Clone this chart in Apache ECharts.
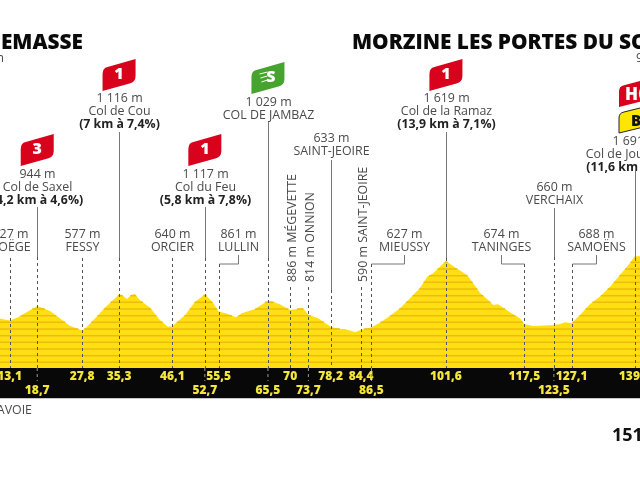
<!DOCTYPE html>
<html>
<head>
<meta charset="utf-8">
<style>html,body{margin:0;padding:0;background:#fff;overflow:hidden}#c{width:640px;height:480px}</style>
<script src="https://cdn.jsdelivr.net/npm/echarts@6/dist/echarts.min.js"></script>
</head>
<body>
<div id="c"></div>
<script>
// Road profile: distance in km, altitude in m
const profileKm = [11,13.1,14.6,16.2,18.7,21.3,23.3,25.3,27.8,28.6,31.4,32.5,35.3,35.9,36.9,37.7,38.5,39.5,41.6,43.6,45.2,46.1,48.7,50.7,52.7,53,54.2,55.5,57.4,59,60.2,62.9,65.5,66,67.9,70,71.4,72.6,73.7,75.7,78.2,80.1,81.1,83.2,84.4,86.5,88.2,90.3,92.3,94.3,96.3,97.8,99,101.6,103.4,105.9,107.5,108.5,110,111.2,112.2,114.6,116.6,117.5,119.3,120.7,123.5,124.7,125.8,127.1,128.8,130.8,132.8,134.9,136.9,138.9,139.9,141];
const profileAlt = [760,727,770,835,944,870,760,650,577,620,835,925,1116,1110,1050,1110,1125,1035,920,735,635,640,810,1010,1117,1105,1010,861,825,775,835,900,1029,1020,970,886,900,910,814,760,633,600,600,550,590,627,695,800,910,1060,1210,1385,1435,1619,1525,1410,1250,1145,1045,960,970,850,760,674,645,650,660,675,700,688,810,970,1085,1235,1410,1585,1691,1690];
const contourLevels = [100,200,300,400,500,600,700,800,900,1000,1100,1200,1300,1400,1500,1600];

// Distance markers printed in the black band
const stopKm = [13.1,18.7,27.8,35.3,46.1,52.7,55.5,65.5,70,73.7,78.2,84.4,86.5,101.6,117.5,123.5,127.1,139.9];
const stopText = ['13,1','18,7','27,8','35,3','46,1','52,7','55,5','65,5','70','73,7','78,2','84,4','86,5','101,6','117,5','123,5','127,1','139,9'];
const stopRow = [0,1,0,0,0,1,0,1,0,1,0,0,1,0,0,1,0,0];

// Horizontal place names above the profile
const placeKm = [13.1,18.7,27.8,35.3,46.1,52.7,55.5,65.5,78.2,86.5,101.6,117.5,123.5,127.1,139.9];
const placeLines = [
  ['727 m','BOËGE'],
  ['944 m','Col de Saxel','(4,2 km à 4,6%)'],
  ['577 m','FESSY'],
  ['1 116 m','Col de Cou','(7 km à 7,4%)'],
  ['640 m','ORCIER'],
  ['1 117 m','Col du Feu','(5,8 km à 7,8%)'],
  ['861 m','LULLIN'],
  ['1 029 m','COL DE JAMBAZ'],
  ['633 m','SAINT-JEOIRE'],
  ['627 m','MIEUSSY'],
  ['1 619 m','Col de la Ramaz','(13,9 km à 7,1%)'],
  ['674 m','TANINGES'],
  ['660 m','VERCHAIX'],
  ['688 m','SAMOËNS'],
  ['1 691 m','Col de Joux Plane','(11,6 km à 8,5%)']
];

// Upright place names
const sideKm = [70,73.7,84.4];
const sideText = ['886 m MÉGEVETTE','814 m ONNION','590 m SAINT-JEOIRE'];

// Climb flags
const flagKm = [18.7,35.3,52.7,65.5,101.6];
const flagText = ['3','1','1','S','1'];

const FONT = '"Open Sans"';
const INK = '#4a4a4a';
const BASE_Y = 368;
const pxPerKm = 4.93;
const xMin = 11.15, xMax = xMin + 640 / pxPerKm;

// Per-place leader layout, same order as placeKm
const placeLayout = [
  {top:234,dash:258},
  {top:174,solid:207,dash:257},
  {top:234,dash:258},
  {top:98,solid:132,dash:258},
  {top:234,dash:258},
  {top:174,solid:207,dash:258},
  {top:234,dash:264,elbow:19},
  {top:102,solid:122,dash:258},
  {top:138,solid:160,dash:290},
  {top:234,dash:264,elbow:33},
  {top:98,solid:132,dash:258},
  {top:234,dash:264,elbow:-23},
  {top:187,solid:208,dash:257},
  {top:234,dash:264,elbow:24},
  {top:141,solid:167,dash:258}
];
const flagTop = [134,59,134,62,59];
const flagColor = ['#d8021c','#d8021c','#d8021c','#46a32e','#d8021c'];

const RIBBON = 'M0 32L0 15Q0 9 5 8L33 0L33 17Q33 23 27 24.5Z';

function ribbon(x, y, h, fill, stroke) {
  return {type:'path', shape:{pathData:RIBBON, x:x, y:y, width:33, height:h, layout:'cover'},
    style:{fill:fill, stroke:stroke || null, lineWidth:stroke ? 1 : 0}};
}
function label(x, y, text, font, fill, align) {
  return {type:'text', style:{x:x, y:y, text:text, font:font, fill:fill || INK, align:align || 'center', verticalAlign:'middle'}};
}
function seg(x1, y1, x2, y2, color, dash) {
  return {type:'line', shape:{x1:x1, y1:y1, x2:x2, y2:y2},
    style:{stroke:color, lineWidth:1, lineDash:dash || null}};
}

// Walks the profile and draws a contour wherever the ground is above the level
function renderContour(params, api) {
  const level = api.value(1), kids = [];
  let start = null;
  for (let i = 0; i < profileKm.length; i++) {
    const a = profileAlt[i];
    if (a > level && start === null) {
      if (i === 0) start = profileKm[0];
      else start = profileKm[i-1] + (level - profileAlt[i-1]) / (a - profileAlt[i-1]) * (profileKm[i] - profileKm[i-1]);
    } else if (a <= level && start !== null) {
      const end = profileKm[i-1] + (level - profileAlt[i-1]) / (a - profileAlt[i-1]) * (profileKm[i] - profileKm[i-1]);
      kids.push([start, end]);
      start = null;
    }
  }
  if (start !== null) kids.push([start, profileKm[profileKm.length-1]]);
  return {type:'group', children:kids.map(function (k) {
    const p = api.coord([k[0], level]), q = api.coord([k[1], level]);
    return {type:'line', shape:{x1:p[0], y1:p[1], x2:q[0], y2:p[1]}, style:{stroke:'#eebd0c', lineWidth:1.5}};
  })};
}

function renderStop(params, api) {
  const i = params.dataIndex, x = api.coord([stopKm[i], 0])[0];
  const y = stopRow[i] ? 391 : 377;
  const kids = [label(x, y, stopText[i], '800 12px ' + FONT, '#f4e53a')];
  if (stopRow[i]) kids.push(seg(x, BASE_Y, x, 381, '#9a9a9a', [3, 3]));
  return {type:'group', children:kids};
}

function renderPlace(params, api) {
  const i = params.dataIndex, L = placeLayout[i], x = Math.round(api.coord([placeKm[i], 0])[0]) + 0.5;
  const tx = x + (L.elbow || 0), lines = placeLines[i], kids = [];
  lines.forEach(function (t, n) {
    const bold = t.charAt(0) === '(';
    kids.push(label(tx, L.top + n * 13, t, (bold ? '700 12.3px ' : '400 12.4px ') + FONT, bold ? '#222' : INK));
  });
  if (L.solid) kids.push(seg(x, L.solid, x, L.dash, '#777'));
  if (L.elbow) {
    kids.push(seg(x, L.dash, tx, L.dash, '#777'));
    kids.push(seg(tx, L.dash, tx, L.dash - 9, '#777'));
  }
  kids.push(seg(x, L.dash, x, BASE_Y, '#555', [3, 3]));
  return {type:'group', children:kids};
}

function renderSide(params, api) {
  const i = params.dataIndex, x = Math.round(api.coord([sideKm[i], 0])[0]) + 0.5;
  return {type:'group', children:[
    {type:'text', x:x + 2, y:282, rotation:Math.PI / 2,
      style:{x:0, y:0, text:sideText[i], font:'400 12.4px ' + FONT, fill:INK, align:'left', verticalAlign:'middle'}},
    seg(x, 287, x, BASE_Y, '#555', [3, 3])
  ]};
}

function renderFlag(params, api) {
  const i = params.dataIndex, cx = api.coord([flagKm[i], 0])[0];
  const x = cx - 16.5, y = flagTop[i], kids = [ribbon(x, y, 32, flagColor[i])];
  kids.push(label(cx + (flagText[i] === 'S' ? 3 : 0), y + 15, flagText[i], '800 16px ' + FONT, '#fff'));
  if (flagText[i] === 'S') {
    [[12, 8], [16, 7], [20, 6]].forEach(function (s) {
      kids.push(seg(x + 16 - s[1], y + s[0], x + 16, y + s[0] - 2, '#fff'));
    });
  }
  return {type:'group', children:kids};
}

// The final climb carries two stacked ribbons running past the edge of the frame
function renderSummitFlags() {
  return {type:'group', children:[
    ribbon(619, 78, 29, '#d8021c'),
    label(625, 95, 'HC', '800 17px ' + FONT, '#fff', 'left'),
    ribbon(619, 105, 28, '#ffe600', '#222'),
    label(631, 122, 'BONUS', '800 15px ' + FONT, '#111', 'left')
  ]};
}

function renderBand() {
  return {type:'group', children:[
    {type:'rect', shape:{x:0, y:BASE_Y, width:640, height:30}, style:{fill:'#080808'}},
    {type:'rect', shape:{x:0, y:BASE_Y + 30, width:640, height:1}, style:{fill:'#c8c8c8'}}
  ]};
}

const customBase = {type:'custom', coordinateSystem:'cartesian2d', silent:true, clip:false, animation:false};

const chart = echarts.init(document.getElementById('c'), null, {renderer:'canvas'});
chart.setOption({
  animation:false,
  backgroundColor:'#fff',
  grid:{left:0, right:0, top:169, bottom:480 - BASE_Y},
  xAxis:{type:'value', min:xMin, max:xMax, show:false},
  yAxis:{type:'value', min:15, max:3000, show:false},
  series:[
    {type:'line', z:2, silent:true, showSymbol:false, symbol:'none',
      data:profileKm.map(function (k, i) { return [k, profileAlt[i]]; }),
      lineStyle:{width:0}, areaStyle:{color:'#ffdf12', opacity:1}},
    Object.assign({}, customBase, {z:3, clip:true, data:contourLevels.map(function (l) { return [xMin, l]; }), renderItem:renderContour}),
    Object.assign({}, customBase, {z:4, data:[[xMin, 15]], renderItem:renderBand}),
    Object.assign({}, customBase, {z:5, data:placeKm.map(function (k) { return [k, 15]; }), renderItem:renderPlace}),
    Object.assign({}, customBase, {z:5, data:sideKm.map(function (k) { return [k, 15]; }), renderItem:renderSide}),
    Object.assign({}, customBase, {z:5, data:stopKm.map(function (k) { return [k, 15]; }), renderItem:renderStop}),
    Object.assign({}, customBase, {z:5, data:flagKm.map(function (k) { return [k, 15]; }), renderItem:renderFlag}),
    Object.assign({}, customBase, {z:6, data:[[xMin, 15]], renderItem:renderSummitFlags})
  ],
  graphic:{elements:[
    {type:'text', right:557, top:33, style:{text:'ANNEMASSE', font:'800 20.8px ' + FONT, fill:'#0a0a0a'}},
    {type:'text', left:352, top:33, style:{text:'MORZINE LES PORTES DU SOLEIL', font:'800 20.8px ' + FONT, fill:'#0a0a0a'}},
    {type:'text', right:636, top:52, style:{text:'435 m', font:'400 12.4px ' + FONT, fill:INK}},
    {type:'text', left:636, top:52, style:{text:'975 m', font:'400 12.4px ' + FONT, fill:INK}},
    {type:'text', right:608, top:404, style:{text:'HAUTE-SAVOIE', font:'400 12.4px ' + FONT, fill:INK}},
    {type:'text', left:612, top:427, style:{text:'151,5 km', font:'700 18px ' + FONT, fill:'#111'}}
  ]}
});
</script>
</body>
</html>
